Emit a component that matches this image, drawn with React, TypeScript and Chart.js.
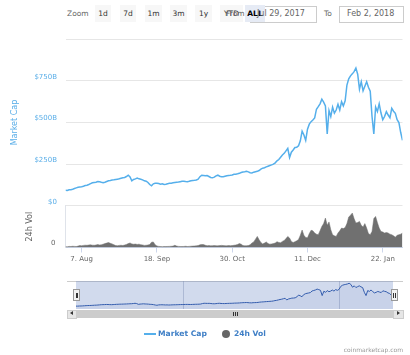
import React, { useEffect, useRef } from 'react';
import { Chart, registerables } from 'chart.js';

Chart.register(...registerables);

const FONT = '"DejaVu Sans", "Lucida Grande", Arial, sans-serif';

// Total market cap in billions USD, one value per day from Jul 29, 2017 (day 0) to Feb 2, 2018 (day 188)
const marketCap = [
  93, 92, 96, 97, 100, 104, 108, 111, 113, 115,
  118, 122, 124, 128, 133, 138, 140, 142, 146, 144,
  141, 139, 142, 146, 150, 152, 155, 156, 158, 160,
  162, 165, 168, 170, 176, 184, 174, 150, 158, 162,
  167, 162, 160, 156, 150, 148, 140, 128, 120, 132,
  135, 136, 134, 130, 132, 128, 130, 133, 135, 136,
  138, 140, 142, 143, 145, 147, 148, 146, 145, 147,
  150, 152, 153, 155, 160, 175, 184, 182, 180, 182,
  176, 170, 168, 172, 180, 184, 178, 175, 174, 177,
  180, 182, 183, 185, 189, 190, 192, 195, 200, 203,
  205, 208, 204, 199, 197, 202, 205, 207, 212, 220,
  226, 229, 234, 238, 242, 246, 250, 258, 270, 278,
  292, 305, 315, 330, 345, 290, 322, 335, 350, 352,
  360, 390, 448, 425, 393, 460, 490, 505, 515, 528,
  580, 595, 612, 640, 622, 600, 431, 572, 536, 592,
  556, 575, 610, 575, 625, 600, 630, 725, 762, 780,
  792, 805, 827, 790, 700, 745, 690, 718, 745, 712,
  688, 536, 431, 593, 566, 612, 557, 517, 536, 565,
  545, 528, 585, 568, 555, 517, 500, 440, 393,
];

// 24h volume in billions USD, same days
const volume = [
  1.5, 1.2, 2.0, 1.8, 2.2, 2.0, 1.8, 2.5, 3.5, 3.0,
  3.8, 4.2, 3.9, 4.5, 4.8, 4.2, 4.0, 4.5, 5.2, 4.6,
  4.8, 6.0, 7.0, 8.0, 9.0, 7.5, 6.5, 5.0, 3.5, 3.2,
  3.8, 4.0, 3.6, 4.5, 5.5, 7.0, 8.2, 6.5, 5.8, 6.2,
  5.5, 6.0, 5.0, 4.6, 3.8, 4.0, 4.5, 5.5, 9.5, 10.0,
  5.0, 2.8, 2.0, 1.8, 1.5, 1.8, 1.6, 1.9, 2.0, 2.2,
  2.5, 4.0, 2.5, 2.0, 1.8, 1.6, 1.9, 2.2, 1.8, 2.0,
  2.3, 2.5, 2.8, 3.0, 3.5, 4.8, 5.5, 5.2, 4.0, 3.2,
  3.5, 3.0, 3.3, 3.6, 3.2, 3.0, 3.4, 3.8, 3.5, 3.2,
  3.0, 3.6, 3.3, 3.5, 4.0, 4.5, 5.5, 7.0, 6.0, 3.5,
  3.0, 3.2, 3.5, 5.0, 8.0, 10.0, 15, 20, 14, 9,
  6.5, 8.0, 10.0, 7.0, 6.0, 6.5, 7.0, 8.0, 10.5, 9.0,
  8.5, 11.0, 12.5, 16, 20, 17, 11, 9, 10.5, 12,
  14.5, 22, 31.5, 22, 18, 17.5, 25, 31, 30, 26,
  24, 23, 30, 38, 43, 53, 40, 46, 32, 23,
  21, 20, 26, 30, 35, 34, 36, 43, 55, 58,
  62, 52, 44, 45, 47, 40, 37, 43, 35, 25,
  23, 29, 52, 56, 45, 35, 29, 28, 26, 27,
  26, 24, 23, 21, 18.5, 22, 23, 24, 26,
];

const xTickDays = [9, 51, 93, 135, 177];
const xTickLabels = ['7. Aug', '18. Sep', '30. Oct', '11. Dec', '22. Jan'];
const capTicks = [0, 250, 500, 750, 1000];
const capTickLabels = ['$0', '$250B', '$500B', '$750B', ''];
const volTicks = [0];
const volTickLabels = ['0'];
const navTickDays = [64, 156];
const navTickLabels = ["Oct '17", "Jan '18"];
const zoomButtons = ['1d', '7d', '1m', '3m', '1y', 'YTD', 'ALL'];
const fromDate = 'Jul 29, 2017';
const toDate = 'Feb 2, 2018';

const LINE_COLOR = '#55afeb';
const VOL_COLOR = '#707070';

// layout of range-selector buttons (left, width)
const buttonBoxes = [
  [95, 16], [120, 16], [145, 17], [170, 17], [195, 17], [220, 23], [245, 20],
];

const abs = (s: any): React.CSSProperties => ({ position: 'absolute', ...s });

export default function App() {
  const mainRef = useRef<HTMLCanvasElement>(null);
  const navRef = useRef<HTMLCanvasElement>(null);

  useEffect(() => {
    document.body.style.margin = '0';
    const pts = (arr: number[]) => arr.map((v, i) => ({ x: i, y: v }));
    const lastDay = marketCap.length - 1;

    const main = new Chart(mainRef.current as HTMLCanvasElement, {
      type: 'line',
      data: {
        datasets: [
          {
            label: 'Market Cap',
            data: pts(marketCap),
            yAxisID: 'y',
            borderColor: LINE_COLOR,
            borderWidth: 1.5,
            pointRadius: 0,
            fill: false,
            tension: 0,
          },
          {
            label: '24h Vol',
            data: pts(volume),
            yAxisID: 'yVol',
            borderColor: VOL_COLOR,
            backgroundColor: VOL_COLOR,
            borderWidth: 0.5,
            pointRadius: 0,
            fill: 'origin',
            tension: 0,
          },
        ],
      },
      options: {
        responsive: false,
        animation: false,
        events: [],
        layout: { padding: { left: 0, right: 7.5, top: 5, bottom: 2.5 } },
        plugins: { legend: { display: false }, tooltip: { enabled: false } },
        scales: {
          x: {
            type: 'linear',
            min: 0,
            max: lastDay,
            afterBuildTicks: (s: any) => {
              s.ticks = xTickDays.map((v) => ({ value: v }));
            },
            afterFit: (s: any) => {
              s.height = 20;
            },
            ticks: {
              autoSkip: false,
              maxRotation: 0,
              padding: 2,
              color: '#666',
              font: { family: FONT, size: 7 },
              callback: (v: any) => {
                const i = xTickDays.indexOf(Number(v));
                return i >= 0 ? xTickLabels[i] : '';
              },
            },
            grid: { display: true, drawOnChartArea: false, drawTicks: true, tickLength: 5, color: '#ccd6eb' },
            border: { display: true, color: '#ccd6eb' },
          },
          yVol: {
            type: 'linear',
            position: 'left',
            stack: 'panes',
            stackWeight: 1,
            min: 0,
            max: 75,
            afterBuildTicks: (s: any) => {
              s.ticks = volTicks.map((v) => ({ value: v }));
            },
            afterFit: (s: any) => {
              s.width = 65.5;
            },
            ticks: {
              padding: 10,
              labelOffset: -4,
              color: '#666',
              font: { family: FONT, size: 7 },
              callback: (v: any) => {
                const i = volTicks.indexOf(Number(v));
                return i >= 0 ? volTickLabels[i] : '';
              },
            },
            grid: { display: false, drawTicks: false },
            border: { display: true, color: '#dfe3ea' },
            title: {
              display: true,
              text: '24h Vol',
              color: '#666',
              font: { family: FONT, size: 8 },
              padding: { top: 25, bottom: 0 },
            },
          },
          y: {
            type: 'linear',
            position: 'left',
            stack: 'panes',
            stackWeight: 4,
            min: 0,
            max: 1000,
            afterBuildTicks: (s: any) => {
              s.ticks = capTicks.map((v) => ({ value: v }));
            },
            afterFit: (s: any) => {
              s.width = 65.5;
            },
            ticks: {
              padding: 8.5,
              labelOffset: -4,
              autoSkip: false,
              color: '#5aaee8',
              font: { family: FONT, size: 7 },
              callback: (v: any) => {
                const i = capTicks.indexOf(Number(v));
                return i >= 0 ? capTickLabels[i] : '';
              },
            },
            grid: { display: true, drawTicks: false, color: '#e6e6e6' },
            border: { display: false },
            title: {
              display: true,
              text: 'Market Cap',
              color: '#5aaee8',
              font: { family: FONT, size: 8 },
              padding: { top: 10, bottom: 0 },
            },
          },
        },
      } as any,
    });

    const maskPlugin = {
      id: 'navMask',
      beforeDatasetsDraw(chart: any) {
        const { ctx, chartArea } = chart;
        ctx.save();
        ctx.fillStyle = 'rgba(102,133,194,0.3)';
        ctx.fillRect(chartArea.left, chartArea.top, chartArea.right - chartArea.left, chartArea.bottom - chartArea.top);
        ctx.restore();
      },
    };

    const nav = new Chart(navRef.current as HTMLCanvasElement, {
      type: 'line',
      data: {
        datasets: [
          {
            label: 'nav',
            data: pts(marketCap),
            borderColor: '#335cad',
            backgroundColor: 'rgba(51,92,173,0.06)',
            borderWidth: 1,
            pointRadius: 0,
            fill: 'origin',
            tension: 0,
          },
        ],
      },
      plugins: [maskPlugin],
      options: {
        responsive: false,
        animation: false,
        events: [],
        layout: { padding: { left: 76, right: 17, top: 0, bottom: 0 } },
        plugins: { legend: { display: false }, tooltip: { enabled: false } },
        scales: {
          x: {
            type: 'linear',
            min: 0,
            max: lastDay,
            afterBuildTicks: (s: any) => {
              s.ticks = navTickDays.map((v) => ({ value: v }));
            },
            afterFit: (s: any) => {
              s.height = 0;
            },
            ticks: {
              autoSkip: false,
              maxRotation: 0,
              align: 'start',
              labelOffset: 2,
              padding: -10,
              color: '#999',
              font: { family: FONT, size: 7 },
              callback: (v: any) => {
                const i = navTickDays.indexOf(Number(v));
                return i >= 0 ? navTickLabels[i] : '';
              },
            },
            grid: { display: true, drawOnChartArea: true, drawTicks: false, color: 'rgba(140,150,175,0.45)' },
            border: { display: false },
          },
          y: { display: false, min: 0, max: 900 },
        },
      } as any,
    });

    return () => {
      main.destroy();
      nav.destroy();
    };
  }, []);

  const txt = (s: any): React.CSSProperties => ({
    position: 'absolute',
    whiteSpace: 'nowrap',
    fontFamily: FONT,
    lineHeight: '10px',
    ...s,
  });

  return (
    <div style={{ position: 'fixed', left: 0, top: 0, width: 410, height: 355, background: '#fff', overflow: 'hidden', fontFamily: FONT }}>
      {/* range selector */}
      <div style={txt({ left: 67, top: 9, fontSize: 7.5, color: '#666' })}>Zoom</div>
      {zoomButtons.map((b, i) => {
        const [l, w] = buttonBoxes[i];
        const sel = b === 'ALL';
        return (
          <div
            key={b}
            style={abs({
              left: l,
              top: 5,
              width: w,
              height: 17,
              background: sel ? '#e6ebf5' : '#f7f7f7',
              color: sel ? '#000' : '#333',
              fontWeight: sel ? 'bold' : 'normal',
              fontFamily: FONT,
              fontSize: 7.5,
              lineHeight: '17px',
              textAlign: 'center',
              zIndex: sel ? 3 : 1,
            })}
          >
            {b}
          </div>
        );
      })}
      <div style={txt({ left: 226, top: 9, fontSize: 7.5, color: '#666', zIndex: 2 })}>From</div>
      <div style={abs({ left: 250, top: 6, width: 65, height: 15, border: '1px solid #ccc', zIndex: 2 })} />
      <div style={txt({ left: 257, top: 9, fontSize: 8, color: '#666', zIndex: 4 })}>{fromDate}</div>
      <div style={txt({ left: 324, top: 9, fontSize: 7.5, color: '#666' })}>To</div>
      <div style={abs({ left: 339, top: 6, width: 63, height: 15, border: '1px solid #ccc' })} />
      <div style={txt({ left: 347, top: 9, fontSize: 8, color: '#666' })}>{toDate}</div>

      {/* main chart */}
      <canvas ref={mainRef} width={410} height={245} style={abs({ left: 0, top: 25, width: 410, height: 245 })} />

      {/* navigator */}
      <div style={abs({ left: 67, top: 280.5, width: 336, height: 1, background: '#cccccc' })} />
      <canvas ref={navRef} width={410} height={28} style={abs({ left: 0, top: 281, width: 410, height: 28 })} />
      {[73, 390.5].map((l) => (
        <div key={l} style={abs({ left: l, top: 289, width: 5, height: 10, background: '#f2f2f2', border: '1px solid #999' })}>
          <div style={abs({ left: 1.5, top: 2.5, width: 0.8, height: 5, background: '#333' })} />
          <div style={abs({ left: 3, top: 2.5, width: 0.8, height: 5, background: '#333' })} />
        </div>
      ))}

      {/* scrollbar */}
      <div style={abs({ left: 67, top: 309.5, width: 336, height: 8.5, background: '#f2f2f2' })} />
      <div style={abs({ left: 67, top: 309.5, width: 8, height: 7.5, background: '#e6e6e6', border: '0.5px solid #ccc' })} />
      <div style={abs({ left: 69.5, top: 311.3, width: 0, height: 0, borderTop: '2.2px solid transparent', borderBottom: '2.2px solid transparent', borderRight: '3px solid #333' })} />
      <div style={abs({ left: 76, top: 309.5, width: 317, height: 8.5, background: '#cccccc' })} />
      {[232.5, 234.5, 236.5].map((l) => (
        <div key={l} style={abs({ left: l, top: 311.5, width: 0.8, height: 4.5, background: '#333' })} />
      ))}
      <div style={abs({ left: 393, top: 309.5, width: 9, height: 7.5, background: '#e6e6e6', border: '0.5px solid #ccc' })} />
      <div style={abs({ left: 397, top: 311.3, width: 0, height: 0, borderTop: '2.2px solid transparent', borderBottom: '2.2px solid transparent', borderLeft: '3px solid #333' })} />

      {/* legend */}
      <div style={abs({ left: 144, top: 333, width: 12, height: 1.5, background: LINE_COLOR })} />
      <div style={txt({ left: 158, top: 329, fontSize: 7.6, fontWeight: 'bold', color: '#3f7fc6' })}>Market Cap</div>
      <div style={abs({ left: 221.5, top: 330, width: 8, height: 8, borderRadius: '50%', background: '#666' })} />
      <div style={txt({ left: 234, top: 329, fontSize: 7.6, fontWeight: 'bold', color: '#3f7fc6' })}>24h Vol</div>

      {/* credits */}
      <div style={txt({ right: 7, top: 345, fontSize: 6, color: '#999', textAlign: 'right' })}>coinmarketcap.com</div>
    </div>
  );
}
